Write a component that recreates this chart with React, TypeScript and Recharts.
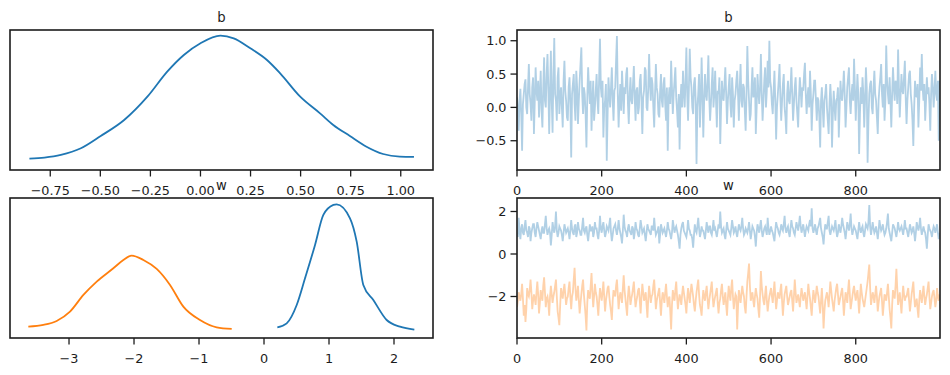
import { LineChart, Line, XAxis, YAxis } from "recharts";

const FONT = "'DejaVu Sans', sans-serif";
const INK = "#1c1c1c";
const C0 = "#1f77b4";
const C1 = "#ff7f0e";

// posterior density of b
const B_KDE_X = [-0.854, -0.779, -0.697, -0.597, -0.498, -0.381, -0.265, -0.166, -0.083, 0.0, 0.1, 0.166, 0.249, 0.332, 0.398, 0.498, 0.597, 0.663, 0.746, 0.829, 0.912, 0.995, 1.066];
const B_KDE_Y = [0.049, 0.06, 0.088, 0.158, 0.287, 0.455, 0.7, 0.963, 1.138, 1.261, 1.341, 1.313, 1.208, 1.085, 0.945, 0.7, 0.525, 0.403, 0.287, 0.175, 0.098, 0.07, 0.067];

// posterior densities of w[0] (blue) and w[1] (orange)
const W0_KDE_X = [0.205, 0.349, 0.503, 0.631, 0.785, 0.913, 1.067, 1.118, 1.323, 1.426, 1.528, 1.682, 1.887, 2.092, 2.313];
const W0_KDE_Y = [0.042, 0.084, 0.277, 0.557, 0.907, 1.222, 1.327, 1.334, 1.187, 0.942, 0.487, 0.329, 0.119, 0.049, 0.018];
const W1_KDE_X = [-3.626, -3.395, -3.19, -2.985, -2.779, -2.574, -2.318, -2.164, -2.036, -1.856, -1.651, -1.446, -1.241, -0.985, -0.728, -0.497];
const W1_KDE_Y = [0.049, 0.067, 0.109, 0.207, 0.382, 0.522, 0.662, 0.749, 0.795, 0.749, 0.655, 0.487, 0.259, 0.119, 0.042, 0.025];

// every 2nd draw of the chains (one row = 40 draws)
const DRAW_STEP = 2;
const B_TRACE = [
  0.15, 0.0, -0.35, 0.1, 0.28, -0.1, -0.65, 0.05, 0.2, 0.35, 0.42, 0.0, -0.1, 0.3, 0.65, 0.2, 0.05, -0.2, 0.3, 0.45,
  -0.4, 0.1, 0.6, 0.25, 0.1, 0.4, -0.15, 0.2, 0.55, -0.05, -0.3, 0.3, 0.75, 0.1, 0.0, 0.5, 0.8, 0.3, -0.4, 0.2,
  0.85, 0.1, -0.38, 0.5, 1.04, 0.2, 0.1, -0.2, 0.45, 0.6, -0.1, 0.15, 0.3, 0.0, -0.3, 0.4, 0.7, 0.25, 0.1, -0.15,
  -0.2, 0.3, 0.45, 0.05, -0.75, 0.2, 0.35, 0.5, 0.05, -0.2, 0.55, 0.3, -0.25, 0.1, 0.4, 0.65, 0.9, 0.2, -0.1, 0.3,
  0.2, -0.1, -0.6, 0.15, 0.6, 0.3, 0.05, 0.4, -0.35, 0.1, 0.4, -0.2, 0.0, 0.25, 0.5, 0.1, -0.1, 0.45, 1.03, 0.3,
  0.15, 0.4, -0.45, 0.0, 0.1, 0.35, -0.8, -0.1, 0.45, 0.2, 0.0, 0.3, 0.6, 0.1, -0.2, 0.25, 0.3, 0.7, 1.07, 0.2,
  -0.3, 0.1, 0.35, -0.05, 0.55, 0.25, -0.1, 0.3, 0.2, 0.5, 0.6, 0.05, -0.25, 0.2, 0.45, 0.1, 0.05, 0.35, 0.62, 0.15,
  -0.2, 0.25, 0.3, -0.1, 0.0, 0.4, 0.5, 0.1, -0.4, 0.15, 0.25, 0.6, 0.55, 0.0, -0.05, 0.3, 0.8, 0.35, 0.1, 0.45,
  0.35, 0.0, -0.3, 0.2, 0.65, 0.3, 0.2, -0.1, -0.15, 0.25, 0.5, 0.1, 0.0, 0.35, 0.45, 0.05, -0.2, 0.3, -0.65, 0.1,
  0.3, 0.05, 0.7, 0.3, -0.1, 0.2, 0.4, 0.6, 0.15, -0.05, -0.3, 0.2, -0.63, 0.1, 0.35, 0.0, 0.55, 0.25, 0.0, 0.4,
  0.9, 0.2, -0.2, 0.3, 0.88, 0.45, 0.3, 0.0, -0.1, 0.35, 0.45, 0.1, -0.85, 0.0, 0.2, 0.5, -0.3, 0.1, 0.75, 0.2,
  -0.45, 0.1, 0.5, 0.2, 0.1, 0.4, 0.78, 0.15, -0.2, 0.05, 0.35, 0.6, 0.0, 0.2, 0.55, 0.1, -0.3, 0.25, 0.2, 0.45,
  -0.55, 0.0, 0.4, 0.15, 0.1, 0.35, 0.6, 0.2, -0.25, 0.1, 0.3, 0.5, 0.05, -0.15, 0.45, 0.2, -0.3, 0.1, 0.2, 0.4,
  0.55, 0.2, -0.2, 0.3, 0.65, 0.1, 0.0, 0.35, 0.3, -0.05, -0.35, 0.2, 0.92, 0.4, 0.1, -0.2, -0.1, 0.3, 0.6, 0.15,
  0.2, 0.45, -0.4, 0.0, 0.5, 0.25, 0.05, 0.3, 0.8, 0.2, -0.2, 0.1, 0.4, 0.6, 0.0, 0.25, 0.7, 0.3, 1.0, 0.4,
  0.3, 0.05, -0.1, 0.25, 0.55, 0.1, -0.48, 0.0, 0.2, 0.4, 0.65, 0.15, -0.2, 0.1, 0.35, 0.5, 0.0, -0.15, -0.4, 0.2,
  0.4, 0.1, 0.05, 0.3, 0.6, 0.2, -0.2, 0.05, 0.3, 0.45, 0.1, -0.1, -0.3, 0.15, 0.45, 0.25, 0.0, 0.3, 0.25, 0.5,
  0.67, 0.2, -0.1, 0.15, 0.3, 0.0, 0.55, 0.2, -0.35, 0.05, 0.2, 0.4, 0.4, 0.1, -0.2, 0.15, 0.1, -0.15, -0.6, 0.1,
  0.3, 0.0, -0.3, 0.1, 0.2, 0.35, 0.0, -0.2, -0.4, 0.05, 0.35, 0.1, -0.6, -0.1, 0.25, 0.0, -0.2, 0.1, 0.15, 0.3,
  -0.45, 0.0, 0.4, 0.15, 0.1, 0.3, 0.55, 0.2, -0.3, 0.0, 0.3, 0.45, 0.6, 0.1, -0.1, 0.2, 0.35, 0.1, 0.73, 0.3,
  -0.2, 0.15, 0.5, 0.2, -0.7, -0.1, 0.3, 0.05, 0.45, 0.2, -0.3, 0.1, 0.6, 0.3, -0.83, -0.2, 0.2, 0.35, 0.4, 0.0,
  -0.1, 0.3, 0.55, 0.2, 0.1, -0.15, -0.4, 0.1, 0.3, 0.45, 0.65, 0.2, 0.0, 0.35, -0.2, 0.1, 0.93, 0.4, 0.2, 0.05,
  0.45, 0.1, -0.3, 0.2, 0.6, 0.3, 0.1, 0.4, 0.35, 0.05, 0.87, 0.3, -0.15, 0.2, 0.5, 0.25, 0.2, 0.45, 0.7, 0.15,
  -0.25, 0.1, 0.3, 0.5, 0.55, 0.2, 0.05, -0.2, -0.58, 0.0, 0.4, 0.2, 0.15, 0.35, -0.3, 0.1, 0.6, 0.25, 0.8, 0.3,
  0.1, 0.35, -0.2, 0.1, 0.45, 0.2, 0.3, 0.05, -0.35, 0.2, 0.5, 0.3, 0.0, 0.25, 0.55, 0.2, 0.1, 0.4, -0.5, 0.4,
];
const W0_TRACE = [
  1.0, 0.8, 1.7, 1.1, 0.7, 1.2, 1.4, 1.0, 0.9, 1.3, 1.6, 1.1, 1.0, 0.8, 1.3, 1.2, 0.6, 1.0, 1.2, 1.4,
  1.4, 1.0, 0.8, 1.2, 1.5, 1.3, 1.1, 0.9, 0.7, 1.1, 1.3, 1.0, 1.0, 1.4, 1.8, 1.2, 0.9, 1.1, 1.2, 1.0,
  0.4, 0.9, 1.5, 1.2, 1.0, 1.3, 2.0, 1.1, 0.8, 1.0, 1.3, 1.2, 1.1, 0.9, 0.6, 1.0, 1.4, 1.2, 1.0, 1.1,
  1.2, 1.0, 0.7, 1.1, 1.6, 1.2, 1.0, 0.9, 1.3, 1.4, 0.8, 1.0, 1.5, 1.2, 1.1, 0.9, 0.9, 1.3, 1.7, 1.1,
  1.0, 1.2, 1.3, 0.9, 0.6, 1.0, 1.4, 1.1, 1.1, 1.3, 0.8, 1.0, 1.5, 1.2, 1.2, 0.9, 0.7, 1.1, 1.8, 1.2,
  1.0, 1.3, 1.5, 1.1, 0.8, 1.0, 1.3, 1.2, 1.1, 1.4, 1.7, 1.0, 0.6, 0.9, 1.2, 1.3, 1.4, 1.1, 0.9, 1.2,
  1.6, 1.2, 1.0, 0.8, 0.5, 1.1, 1.85, 1.3, 1.1, 1.0, 0.8, 1.2, 1.4, 1.1, 1.0, 0.9, 1.3, 1.2, 0.7, 1.0,
  1.5, 1.2, 1.1, 0.9, 0.8, 1.2, 1.6, 1.3, 1.0, 1.1, 1.2, 0.9, 0.6, 1.0, 1.4, 1.2, 1.1, 1.0, 0.9, 1.3,
  1.3, 1.1, 1.7, 1.2, 0.9, 1.0, 1.1, 1.3, 0.5, 0.9, 1.4, 1.2, 1.0, 1.1, 1.2, 1.0, 0.8, 1.1, 1.5, 1.2,
  1.1, 0.9, 0.7, 1.0, 1.6, 1.3, 1.0, 1.2, 1.3, 1.1, 0.9, 0.6, 0.25, 0.9, 1.2, 1.4, 1.5, 1.1, 1.0, 0.9,
  0.8, 1.1, 1.6, 1.2, 1.1, 0.9, 0.9, 0.7, 0.3, 0.9, 1.4, 1.1, 1.0, 1.3, 1.7, 1.2, 0.8, 1.0, 1.3, 1.1,
  1.1, 0.9, 0.7, 1.1, 1.5, 1.2, 1.0, 1.3, 1.3, 1.0, 0.9, 1.2, 1.6, 1.1, 1.2, 1.0, 0.8, 1.1, 1.4, 1.2,
  2.0, 1.3, 1.0, 1.1, 1.2, 0.9, 0.7, 1.1, 1.5, 1.2, 1.1, 1.0, 0.9, 1.2, 1.6, 1.3, 1.0, 1.1, 1.3, 1.0,
  0.8, 1.1, 1.4, 1.2, 1.1, 1.3, 1.7, 1.2, 0.9, 1.0, 1.2, 1.1, 1.0, 1.2, 1.5, 1.1, 0.7, 1.0, 1.3, 1.2,
  1.1, 0.8, 0.35, 1.0, 1.4, 1.2, 1.0, 1.3, 1.6, 1.1, 0.8, 1.0, 1.2, 1.3, 1.1, 0.9, 1.7, 1.2, 0.9, 1.1,
  1.3, 1.1, 1.0, 0.8, 0.6, 1.1, 1.5, 1.3, 1.2, 1.0, 0.9, 1.1, 1.4, 1.2, 1.1, 1.4, 1.8, 1.2, 1.0, 1.2,
  1.3, 1.0, 0.8, 1.2, 1.6, 1.3, 1.2, 1.0, 0.9, 1.2, 1.5, 1.3, 1.1, 1.4, 1.8, 1.3, 1.0, 1.2, 1.4, 1.1,
  0.8, 1.1, 1.3, 1.2, 1.1, 1.4, 1.6, 1.3, 2.15, 1.2, 1.0, 1.2, 1.4, 1.1, 0.9, 1.2, 1.3, 1.5, 1.7, 1.2,
  1.0, 0.8, 0.45, 1.0, 1.4, 1.2, 1.2, 1.5, 1.8, 1.1, 0.9, 1.1, 1.3, 1.2, 1.1, 1.3, 1.6, 1.1, 0.8, 1.0,
  1.4, 1.2, 1.0, 1.3, 1.7, 1.4, 1.2, 1.0, 0.7, 1.1, 1.5, 1.3, 1.1, 1.4, 1.9, 1.2, 0.9, 1.1, 1.3, 1.2,
  1.1, 0.9, 0.7, 1.1, 1.5, 1.2, 1.0, 1.2, 1.3, 1.0, 0.8, 1.1, 1.4, 1.3, 1.2, 1.5, 2.3, 1.3, 0.9, 1.2,
  1.5, 1.2, 1.0, 1.1, 1.3, 1.0, 0.7, 1.1, 1.6, 1.3, 1.1, 1.2, 1.4, 1.1, 0.9, 1.0, 1.2, 1.5, 1.9, 1.2,
  1.0, 0.8, 0.6, 1.0, 1.4, 1.3, 1.2, 1.0, 0.8, 1.1, 1.5, 1.2, 1.1, 1.2, 1.3, 1.1, 0.9, 1.2, 1.6, 1.2,
  1.2, 1.0, 0.8, 1.1, 1.4, 1.2, 1.0, 1.1, 1.3, 1.0, 0.6, 1.0, 1.5, 1.3, 1.1, 1.3, 1.7, 1.2, 0.9, 1.1,
  1.3, 1.1, 1.0, 0.7, 0.25, 0.9, 1.4, 1.2, 1.1, 1.0, 0.8, 1.1, 1.3, 1.2, 1.0, 1.2, 1.4, 1.0, 0.7, 1.0,
];
const W1_TRACE = [
  -2.5, -2.2, -1.8, -2.0, -2.2, -1.9, -1.4, -2.1, -2.9, -2.4, -3.2, -2.6, -1.6, -1.9, -2.0, -1.7, -1.2, -1.8, -2.6, -2.2,
  -1.9, -2.1, -2.4, -1.8, -1.3, -1.9, -2.8, -2.3, -1.7, -2.0, -2.2, -1.5, -1.1, -1.8, -2.5, -2.1, -2.0, -2.3, -2.9, -2.0,
  -1.5, -1.9, -2.3, -2.0, -1.8, -1.5, -1.2, -2.0, -2.7, -3.0, -3.35, -2.4, -1.6, -1.9, -2.1, -1.7, -1.4, -1.9, -2.4, -2.1,
  -2.0, -1.6, -1.3, -2.0, -2.6, -2.0, -1.8, -1.2, -0.65, -1.6, -2.2, -1.9, -1.5, -2.2, -2.8, -2.3, -1.9, -1.5, -1.2, -1.9,
  -2.4, -2.9, -3.6, -2.3, -1.7, -2.0, -2.1, -1.5, -0.9, -1.8, -2.5, -2.0, -1.4, -1.8, -2.0, -2.4, -2.9, -2.2, -1.6, -1.9,
  -2.2, -1.8, -1.3, -2.0, -2.7, -2.2, -1.9, -1.6, -1.5, -2.0, -2.4, -2.7, -3.1, -2.2, -1.7, -1.9, -2.0, -1.5, -1.2, -1.9,
  -2.6, -2.1, -1.8, -2.0, -2.3, -1.6, -1.0, -1.7, -2.1, -2.5, -2.9, -2.0, -1.5, -1.9, -2.4, -2.1, -1.9, -1.6, -1.3, -2.0,
  -2.5, -2.2, -2.0, -1.7, -1.6, -2.2, -2.8, -2.0, -1.4, -1.8, -2.2, -2.0, -1.8, -2.4, -3.0, -2.1, -1.5, -1.9, -2.3, -2.0,
  -1.9, -1.5, -1.2, -1.9, -2.6, -2.2, -2.0, -1.8, -1.6, -2.3, -2.9, -2.2, -1.8, -2.0, -2.3, -1.8, -1.4, -2.0, -2.5, -2.1,
  -2.0, -2.7, -3.55, -2.4, -1.7, -2.0, -2.2, -1.7, -1.3, -2.0, -2.6, -2.2, -1.9, -2.1, -2.4, -1.9, -1.5, -1.8, -2.1, -2.4,
  -2.8, -2.1, -1.6, -2.0, -2.3, -1.8, -1.4, -1.7, -2.0, -2.4, -2.7, -2.2, -1.8, -1.5, -1.2, -1.9, -2.4, -2.6, -2.9, -2.2,
  -1.7, -2.0, -2.2, -1.8, -1.5, -2.1, -2.6, -2.2, -1.9, -1.6, -1.3, -2.0, -2.5, -2.2, -2.0, -1.8, -1.6, -2.3, -2.8, -2.3,
  -2.1, -1.7, -1.4, -2.0, -2.4, -2.1, -1.8, -2.4, -2.9, -2.1, -1.5, -1.9, -2.2, -1.6, -1.2, -2.0, -2.6, -2.2, -1.9, -2.0,
  -3.55, -2.5, -1.7, -2.0, -2.3, -1.9, -1.5, -1.8, -2.0, -2.5, -2.8, -2.0, -1.3, -0.9, -0.45, -1.5, -2.2, -2.0, -1.8, -2.2,
  -2.5, -2.0, -1.6, -1.9, -2.1, -2.6, -3.0, -2.0, -0.8, -1.5, -1.9, -2.2, -2.4, -1.9, -1.5, -2.2, -2.7, -2.3, -2.0, -1.8,
  -1.6, -2.0, -2.3, -1.8, -1.3, -2.0, -2.6, -2.2, -1.8, -2.0, -2.1, -1.7, -1.4, -2.2, -2.9, -2.3, -1.9, -1.7, -1.5, -2.0,
  -2.4, -2.2, -2.0, -1.8, -1.7, -2.2, -2.7, -2.0, -1.2, -1.8, -2.3, -2.1, -1.9, -2.2, -2.5, -2.0, -1.6, -1.9, -2.2, -2.0,
  -1.8, -2.2, -2.6, -2.0, -1.4, -1.8, -2.1, -2.5, -2.9, -2.2, -1.7, -2.0, -2.3, -1.9, -1.5, -1.8, -2.0, -2.4, -2.8, -2.2,
  -1.6, -2.4, -3.5, -2.7, -2.2, -2.0, -1.8, -2.1, -2.5, -1.9, -1.3, -1.7, -2.1, -2.4, -2.7, -2.2, -1.9, -1.6, -1.4, -1.9,
  -2.4, -2.2, -2.0, -1.8, -1.6, -2.2, -2.9, -2.3, -1.8, -2.0, -2.3, -1.7, -1.2, -1.9, -2.6, -2.3, -2.0, -1.7, -1.5, -1.9,
  -2.2, -1.9, -1.7, -2.2, -2.8, -2.1, -1.4, -1.8, -2.1, -2.3, -2.5, -2.2, -1.9, -1.6, -1.3, -0.9, -0.5, -1.6, -2.4, -2.1,
  -1.8, -2.0, -2.3, -1.9, -1.5, -2.0, -2.7, -2.3, -2.0, -1.8, -1.6, -2.2, -2.9, -2.4, -1.9, -2.0, -2.2, -1.8, -1.4, -2.0,
  -2.6, -3.0, -3.5, -2.4, -1.7, -1.9, -2.1, -1.5, -0.7, -1.6, -2.4, -2.1, -1.8, -2.3, -2.8, -2.1, -1.5, -1.9, -2.2, -2.0,
  -2.0, -1.8, -1.6, -2.2, -2.7, -2.3, -1.9, -1.6, -1.3, -2.0, -2.5, -2.3, -2.1, -2.6, -3.0, -2.2, -1.7, -2.0, -2.3, -1.9,
  -1.5, -2.0, -2.4, -2.1, -1.9, -1.6, -1.3, -2.0, -2.6, -2.3, -2.0, -1.8, -1.7, -2.1, -2.5, -2.2, -1.6, -2.0, -2.2, -1.9,
];

const B_KDE_TICKS = [-0.75, -0.5, -0.25, 0, 0.25, 0.5, 0.75, 1.0];
const W_KDE_TICKS = [-3, -2, -1, 0, 1, 2];
const DRAW_TICKS = [0, 200, 400, 600, 800];
const B_TRACE_TICKS = [-0.5, 0, 0.5, 1.0];
const W_TRACE_TICKS = [-2, 0, 2];

const pts = (xs: number[], ys: number[]) => xs.map((x, i) => ({ x, y: ys[i] }));
const trace = (vals: number[]) => vals.map((y, i) => ({ x: i * DRAW_STEP, y }));
const fmt = (d: number) => (v: number) => v.toFixed(d).replace("-", "\u2212");

const PW = 423;
const PH = 140;
const tickStyle = { fill: INK, fontSize: 12.8, fontFamily: FONT };
const tickLineStyle = { stroke: INK, strokeWidth: 1.3 };

interface Series { data: { x: number; y: number }[]; color: string; opacity: number; width: number; curve: "monotone" | "linear"; }

function Panel({ left, top, xDomain, xTicks, xFmt, yDomain, yTicks, yFmt, series }: {
  left: number; top: number; xDomain: [number, number]; xTicks: number[]; xFmt: (v: number) => string;
  yDomain: [number, number]; yTicks?: number[]; yFmt?: (v: number) => string; series: Series[];
}) {
  return (
    <div style={{ position: "absolute", left: left - 60, top: top - 10 }}>
      <LineChart width={PW + 80} height={PH + 50} margin={{ top: 10, right: 20, bottom: 0, left: 0 }}>
        <XAxis type="number" dataKey="x" domain={xDomain} ticks={xTicks} tickFormatter={xFmt} interval={0}
          allowDataOverflow height={40} axisLine={false} tickSize={6.5} tickMargin={9.5}
          tickLine={tickLineStyle} tick={tickStyle} />
        {yTicks ? (
          <YAxis type="number" domain={yDomain} ticks={yTicks} tickFormatter={yFmt} interval={0}
            allowDataOverflow width={60} axisLine={false} tickSize={6.5} tickMargin={4}
            tickLine={tickLineStyle} tick={tickStyle} />
        ) : (
          <YAxis type="number" domain={yDomain} allowDataOverflow width={60} axisLine={false} tickLine={false} tick={false} />
        )}
        {series.map((s, i) => (
          <Line key={i} data={s.data} dataKey="y" type={s.curve} stroke={s.color} strokeOpacity={s.opacity}
            strokeWidth={s.width} dot={false} activeDot={false} isAnimationActive={false} />
        ))}
      </LineChart>
    </div>
  );
}

const FRAMES = [[10, 30], [517, 30], [10, 198], [517, 198]];
const TITLES = [["b", 221.5, 21.5], ["b", 728.5, 21.5], ["w", 221.5, 189.5], ["w", 728.5, 189.5]];

export default function App() {
  const kde = (data: Series["data"], color: string): Series => ({ data, color, opacity: 1, width: 1.8, curve: "monotone" });
  const tr = (data: Series["data"], color: string): Series => ({ data, color, opacity: 0.35, width: 1.8, curve: "linear" });
  return (
    <div style={{ position: "absolute", left: 0, top: 0, width: 950, height: 375, background: "#fff" }}>
      <Panel left={10} top={30} xDomain={[-0.951, 1.161]} xTicks={B_KDE_TICKS} xFmt={fmt(2)} yDomain={[-0.07, 1.4]}
        series={[kde(pts(B_KDE_X, B_KDE_Y), C0)]} />
      <Panel left={517} top={30} xDomain={[0, 999]} xTicks={DRAW_TICKS} xFmt={fmt(0)} yDomain={[-0.939, 1.161]}
        yTicks={B_TRACE_TICKS} yFmt={fmt(1)} series={[tr(trace(B_TRACE), C0)]} />
      <Panel left={10} top={198} xDomain={[-3.908, 2.6]} xTicks={W_KDE_TICKS} xFmt={fmt(0)} yDomain={[-0.07, 1.4]}
        series={[kde(pts(W0_KDE_X, W0_KDE_Y), C0), kde(pts(W1_KDE_X, W1_KDE_Y), C1)]} />
      <Panel left={517} top={198} xDomain={[0, 999]} xTicks={DRAW_TICKS} xFmt={fmt(0)} yDomain={[-3.953, 2.635]}
        yTicks={W_TRACE_TICKS} yFmt={fmt(0)} series={[tr(trace(W0_TRACE), C0), tr(trace(W1_TRACE), C1)]} />
      <svg width={950} height={375} style={{ position: "absolute", left: 0, top: 0, pointerEvents: "none" }}>
        {FRAMES.map(([x, y], i) => (
          <rect key={i} x={x} y={y} width={PW} height={PH} fill="none" stroke={INK} strokeWidth={1.6} />
        ))}
        {TITLES.map(([t, x, y], i) => (
          <text key={i} x={x as number} y={y as number} textAnchor="middle" fontSize={13.2} fontFamily={FONT} fill={INK}>{t}</text>
        ))}
      </svg>
    </div>
  );
}
